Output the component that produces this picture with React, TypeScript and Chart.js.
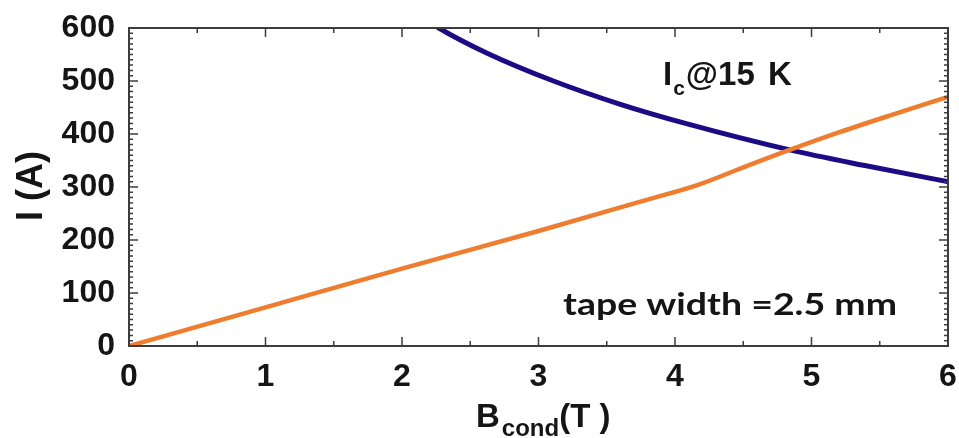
import React, { useEffect, useRef } from "react";
import { Chart, registerables } from "chart.js";

Chart.register(...registerables);

const orangeB = [0, 1, 2, 3, 3.74, 4.18, 4.5, 4.84, 5.2, 5.6, 6];
const orangeI = [0, 73, 146, 217, 272, 305, 337, 370, 403, 437, 470];

const icB = [2.2, 2.27, 2.62, 3.11, 3.6, 4.09, 4.84, 5.4, 5.94, 6];
const icI = [612, 600, 553, 500, 456, 419, 370, 340, 313, 310];

const xTicks = [0, 1, 2, 3, 4, 5, 6];
const yTicks = [0, 100, 200, 300, 400, 500, 600];

const BLUE = "#1b0c86";
const ORANGE = "#ee7d30";
const INK = "#151515";
const FRAME = "#3c3c3c";
const SANS = "'Liberation Sans', Arial, sans-serif";

const framePlugin = {
  id: "framePlugin",
  afterDraw(chart: any) {
    const ctx = chart.ctx;
    const xs = chart.scales.x;
    const ys = chart.scales.y;
    const { left, right, top, bottom } = chart.chartArea;
    ctx.save();
    ctx.strokeStyle = FRAME;
    ctx.lineWidth = 2;
    ctx.strokeRect(left, top, right - left, bottom - top);
    ctx.lineWidth = 1.5;
    ctx.beginPath();
    for (let v = 0; v <= 6.0001; v += 0.5) {
      const px = xs.getPixelForValue(v);
      const major = Math.abs(v - Math.round(v)) < 1e-6;
      const len = major ? 9 : 5;
      ctx.moveTo(px, bottom);
      ctx.lineTo(px, bottom - len);
      ctx.moveTo(px, top);
      ctx.lineTo(px, top + len);
    }
    for (let v = 0; v <= 600; v += 10) {
      const py = ys.getPixelForValue(v);
      const major = v % 100 === 0;
      const len = major ? 9 : 4;
      ctx.moveTo(left, py);
      ctx.lineTo(left + len, py);
      ctx.moveTo(right, py);
      ctx.lineTo(right - len, py);
    }
    ctx.stroke();

    // annotations
    ctx.fillStyle = INK;
    ctx.textBaseline = "alphabetic";
    ctx.textAlign = "left";
    ctx.font = `bold 33px ${SANS}`;
    ctx.fillText("I", 663, 85);
    const iw = ctx.measureText("I").width;
    ctx.font = `bold 21px ${SANS}`;
    ctx.fillText("c", 663 + iw + 1, 95);
    const cw = ctx.measureText("c").width;
    ctx.font = `bold 33px ${SANS}`;
    ctx.fillText("@15", 663 + iw + cw + 2, 85);
    ctx.fillText("K", 768, 85);

    ctx.font = `bold 31px Lato, 'Open Sans', sans-serif`;
    const t = "tape width =2.5 mm";
    const tw = ctx.measureText(t).width;
    const target = 334;
    ctx.save();
    ctx.translate(563, 315);
    ctx.scale(target / tw, 1);
    ctx.fillText(t, 0, 0);
    ctx.restore();

    // x title
    ctx.font = `bold 33px ${SANS}`;
    ctx.fillText("B", 476, 427);
    const bw = ctx.measureText("B").width;
    ctx.font = `bold 24px ${SANS}`;
    ctx.fillText("cond", 476 + bw + 2, 436);
    const cdw = ctx.measureText("cond").width;
    ctx.font = `bold 33px ${SANS}`;
    ctx.fillText("(T )", 476 + bw + cdw + 2, 427);

    // y title
    ctx.save();
    ctx.translate(42, 186);
    ctx.rotate(-Math.PI / 2);
    ctx.font = `bold 36px ${SANS}`;
    ctx.textAlign = "center";
    ctx.fillText("I (A)", 0, 0);
    ctx.restore();

    ctx.restore();
  },
};

export default function App() {
  const ref = useRef<HTMLCanvasElement | null>(null);
  useEffect(() => {
    document.body.style.margin = "0";
    const canvas = ref.current;
    if (!canvas) return;
    const chart = new Chart(canvas, {
      type: "line",
      data: {
        datasets: [
          {
            label: "I",
            data: orangeB.map((b, i) => ({ x: b, y: orangeI[i] })),
            borderColor: ORANGE,
            borderWidth: 4.5,
            pointRadius: 0,
            cubicInterpolationMode: "monotone",
            fill: false,
          },
          {
            label: "Ic@15 K",
            data: icB.map((b, i) => ({ x: b, y: icI[i] })),
            borderColor: BLUE,
            borderWidth: 5,
            pointRadius: 0,
            cubicInterpolationMode: "monotone",
            fill: false,
          },
        ],
      },
      options: {
        animation: false,
        responsive: true,
        maintainAspectRatio: false,
        layout: { padding: { top: 28, right: 11, left: 0, bottom: 0 } },
        plugins: {
          legend: { display: false },
          tooltip: { enabled: false },
        },
        scales: {
          x: {
            type: "linear",
            min: 0,
            max: 6,
            afterFit: (s: any) => {
              s.height = 92;
              s.paddingLeft = 0;
              s.paddingRight = 0;
            },
            afterBuildTicks: (s: any) => {
              s.ticks = xTicks.map((v) => ({ value: v }));
            },
            grid: { display: false, drawTicks: false },
            border: { display: false },
            ticks: {
              color: INK,
              padding: 12,
              maxRotation: 0,
              autoSkip: false,
              font: { family: SANS, size: 32, weight: "bold" },
            },
          },
          y: {
            type: "linear",
            min: 0,
            max: 600,
            afterFit: (s: any) => {
              s.width = 129;
              s.paddingTop = 0;
              s.paddingBottom = 0;
            },
            afterBuildTicks: (s: any) => {
              s.ticks = yTicks.map((v) => ({ value: v }));
            },
            grid: { display: false, drawTicks: false },
            border: { display: false },
            ticks: {
              color: INK,
              padding: 14,
              autoSkip: false,
              font: { family: SANS, size: 32, weight: "bold" },
            },
          },
        },
      },
      plugins: [framePlugin],
    } as any);
    return () => chart.destroy();
  }, []);
  return (
    <div style={{ position: "absolute", left: 0, top: 0, width: 959, height: 438, background: "#fff" }}>
      <canvas ref={ref} />
    </div>
  );
}
